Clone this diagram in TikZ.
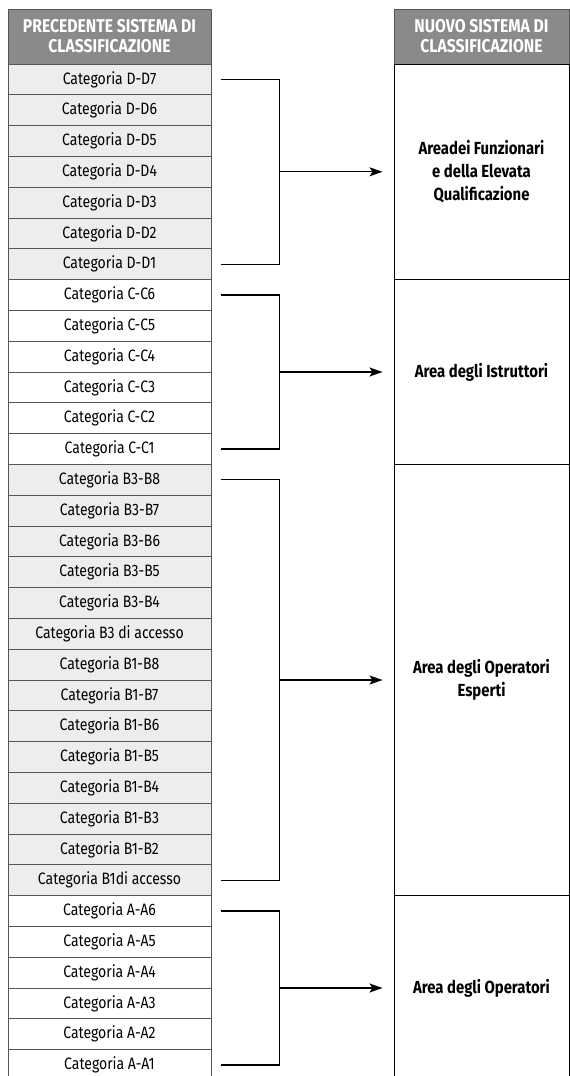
\documentclass[tikz,border=0pt]{standalone}
\usepackage{fontspec}
\setmainfont{Fira Sans}[FakeStretch=0.85]
\usetikzlibrary{arrows.meta,positioning,calc}

\definecolor{headgray}{RGB}{138,138,138}
\definecolor{rowgray}{RGB}{237,237,237}
\definecolor{cellline}{RGB}{85,85,85}

\begin{document}
\begin{tikzpicture}[x=1pt, y=-1pt, >={Stealth[length=13pt, width=9pt, inset=3pt]},
  cell/.style={draw=cellline, line width=1pt, minimum width=203pt,
    minimum height=30.8pt, inner sep=0pt, font=\fontsize{16.5}{18}\selectfont},
  head/.style={draw=cellline, line width=1pt, fill=headgray, text=white,
    minimum height=55pt, inner sep=0pt, align=center,
    font=\fontsize{18.5}{20}\selectfont\bfseries},
  area/.style={draw=black, line width=1pt, minimum width=175pt, inner sep=0pt,
    align=center, font=\fontsize{17.5}{23}\selectfont\bfseries},
  brk/.style={line width=1.2pt}]
  \useasboundingbox (0,0) rectangle (570,1076);
  \clip (0,0) rectangle (570,1076);
  % headers
  \node[head, minimum width=203pt] (hold) at (109.5,36.5)
    {PRECEDENTE SISTEMA DI\\CLASSIFICAZIONE};
  \node[head, minimum width=175pt] (hnew) at (481.5,36.5)
    {NUOVO SISTEMA DI\\CLASSIFICAZIONE};
  % old categories
  \foreach \lab [count=\i] in {D-D7,D-D6,D-D5,D-D4,D-D3,D-D2,D-D1} {
    \node[cell, fill=rowgray] (c\i) at (109.5,{64+30.8*(\i-0.5)}) {Categoria \lab};
  }
  \foreach \lab [count=\i from 8] in {C-C6,C-C5,C-C4,C-C3,C-C2,C-C1} {
    \node[cell, fill=white] (c\i) at (109.5,{64+30.8*(\i-0.5)}) {Categoria \lab};
  }
  \foreach \lab [count=\i from 14] in {B3-B8,B3-B7,B3-B6,B3-B5,B3-B4,
    {B3 di accesso},B1-B8,B1-B7,B1-B6,B1-B5,B1-B4,B1-B3,B1-B2,{B1di accesso}} {
    \node[cell, fill=rowgray] (c\i) at (109.5,{64+30.8*(\i-0.5)}) {Categoria \lab};
  }
  \foreach \lab [count=\i from 28] in {A-A6,A-A5,A-A4,A-A3,A-A2,A-A1} {
    \node[cell, fill=white] (c\i) at (109.5,{64+30.8*(\i-0.5)}) {Categoria \lab};
  }
  % new areas
  \node[area, minimum height=215.6pt] (aD) at (481.5,171.8)
    {Areadei Funzionari\\e della Elevata\\Qualificazione};
  \node[area, minimum height=184.8pt] (aC) at (481.5,372.0)
    {Area degli Istruttori};
  \node[area, minimum height=431.2pt] (aB) at (481.5,680.0)
    {Area degli Operatori\\Esperti};
  \node[area, minimum height=184.8pt] (aA) at (481.5,988.0)
    {Area degli Operatori};
  % brackets
  \coordinate (jD) at ($(c1.east)!.5!(c7.east)+(68,0)$);
  \coordinate (jC) at ($(c8.east)!.5!(c13.east)+(68,0)$);
  \coordinate (jB) at ($(c14.east)!.5!(c27.east)+(68,0)$);
  \coordinate (jA) at ($(c28.east)!.5!(c33.east)+(68,0)$);
  \draw[brk] ([xshift=9pt]c1.east) -| (jD) |- ([xshift=9pt]c7.east);
  \draw[brk] ([xshift=9pt]c8.east) -| (jC) |- ([xshift=9pt]c13.east);
  \draw[brk] ([xshift=9pt]c14.east) -| (jB) |- ([xshift=9pt]c27.east);
  \draw[brk] ([xshift=9pt]c28.east) -| (jA) |- ([xshift=9pt]c33.east);
  \draw[->, brk] (jD) -- ([xshift=-11pt]aD.west |- jD);
  \draw[->, brk] (jC) -- ([xshift=-11pt]aC.west |- jC);
  \draw[->, brk] (jB) -- ([xshift=-11pt]aB.west |- jB);
  \draw[->, brk] (jA) -- ([xshift=-11pt]aA.west |- jA);
\end{tikzpicture}
\end{document}
